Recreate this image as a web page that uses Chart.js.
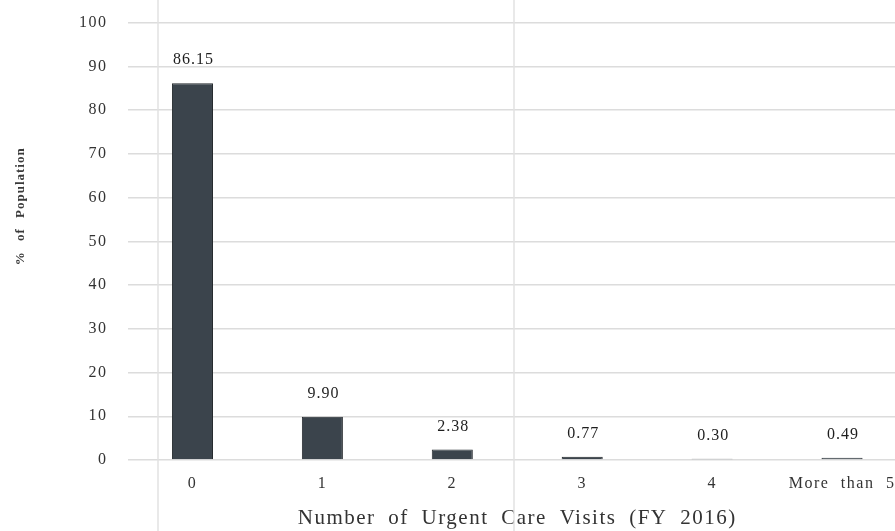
<!DOCTYPE html>
<html>
<head>
<meta charset="utf-8">
<script src="https://cdn.jsdelivr.net/npm/chart.js@4.4.1/dist/chart.umd.min.js"></script>
<style>
  html, body { margin: 0; padding: 0; background: #fff; overflow: hidden; }
  #wrap { position: relative; width: 907px; height: 538px; margin-top: -7px; }
</style>
</head>
<body>
<div id="wrap"><canvas id="chart"></canvas></div>
<script>
// datos
const categories = ['0', '1', '2', '3', '4', 'More than 5'];
const percentValues = [86.15, 9.90, 2.38, 0.77, 0.30, 0.49];
const yTicks = [0, 10, 20, 30, 40, 50, 60, 70, 80, 90, 100];

const serif = "'Liberation Serif', 'DejaVu Serif', serif";

/**
 * Espaciado de letras para imitar la tipografía del original
 */
const spacingPlugin = {
    id: 'spacing',
    beforeDraw(chart) {
        chart.ctx.letterSpacing = '1.5px';
        chart.ctx.wordSpacing = '6px';
    }
};

/**
 * Líneas verticales tenues del escaneo
 */
const scanLines = {
    id: 'scanLines',
    beforeDatasetsDraw(chart) {
        const ctx = chart.ctx;
        ctx.save();
        ctx.strokeStyle = '#e2e2e2';
        ctx.lineWidth = 1.5;
        [158, 514].forEach(x => {
            ctx.beginPath();
            ctx.moveTo(x, 0);
            ctx.lineTo(x, chart.height);
            ctx.stroke();
        });
        ctx.restore();
    }
};

/**
 * Etiquetas de valor encima de cada barra
 */
const valueLabels = {
    id: 'valueLabels',
    afterDatasetsDraw(chart) {
        const ctx = chart.ctx;
        const meta = chart.getDatasetMeta(0);
        ctx.save();
        ctx.font = '16px ' + serif;
        ctx.fillStyle = '#1e1e1e';
        ctx.textAlign = 'center';
        ctx.textBaseline = 'middle';
        ctx.letterSpacing = '1px';
        meta.data.forEach((bar, i) => {
            ctx.fillText(percentValues[i].toFixed(2), bar.x + 1, bar.y - 23);
        });
        ctx.restore();
    }
};

/**
 * Título del eje Y (centrado donde está en el original)
 */
const yTitle = {
    id: 'yTitle',
    afterDraw(chart) {
        const ctx = chart.ctx;
        const yScale = chart.scales.y;
        ctx.save();
        ctx.translate(21, yScale.getPixelForValue(58));
        ctx.rotate(-Math.PI / 2);
        ctx.font = 'bold 13px ' + serif;
        ctx.fillStyle = '#3a3a3a';
        ctx.textAlign = 'center';
        ctx.textBaseline = 'middle';
        ctx.letterSpacing = '1px';
        ctx.fillText('% of Population', 0, 0);
        ctx.restore();
    }
};

new Chart(document.getElementById('chart'), {
    type: 'bar',
    data: {
        labels: categories,
        datasets: [{
            data: percentValues,
            backgroundColor: '#3b444c',
            borderColor: '#23282c',
            borderWidth: 1,
            categoryPercentage: 1,
            barPercentage: 0.316
        }]
    },
    options: {
        responsive: true,
        maintainAspectRatio: false,
        animation: false,
        layout: {
            padding: { top: 10, left: 0, right: 0, bottom: 0 }
        },
        scales: {
            x: {
                grid: { display: false, drawTicks: false },
                border: { display: false },
                ticks: {
                    color: '#333',
                    font: { family: serif, size: 16 },
                    padding: 14,
                    maxRotation: 0
                },
                title: {
                    display: true,
                    text: 'Number of Urgent Care Visits (FY 2016)',
                    color: '#333',
                    font: { family: serif, size: 21 },
                    padding: 0
                },
                afterFit(scale) { scale.height = 71; }
            },
            y: {
                min: 0,
                max: 100,
                afterBuildTicks(scale) {
                    scale.ticks = yTicks.map(v => ({ value: v }));
                },
                grid: { color: '#dcdcdc', lineWidth: 1.5, drawTicks: false },
                border: { display: false },
                ticks: {
                    color: '#333',
                    font: { family: serif, size: 16 },
                    padding: 20
                },
                afterFit(scale) { scale.width = 127.5; }
            }
        },
        plugins: {
            legend: { display: false },
            tooltip: { enabled: false }
        }
    },
    plugins: [spacingPlugin, scanLines, valueLabels, yTitle]
});
</script>
</body>
</html>
